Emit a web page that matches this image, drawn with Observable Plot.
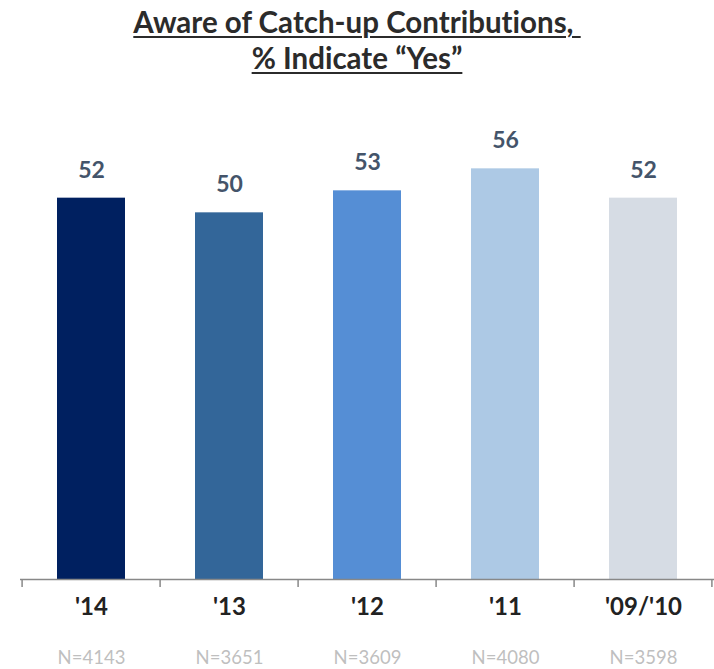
<!DOCTYPE html>
<html>
<head>
<meta charset="utf-8">
<script src="https://cdn.jsdelivr.net/npm/d3@7"></script>
<script src="https://cdn.jsdelivr.net/npm/@observablehq/plot@0.6"></script>
<style>
  html, body { margin: 0; padding: 0; background: #fff; overflow: hidden; }
  #wrap { position: relative; width: 714px; height: 669px; }
  #title { position: absolute; left: 0; top: 4px; width: 714px; text-align: center;
    font-family: Lato, "Open Sans", sans-serif; font-weight: bold; font-size: 29.5px; line-height: 36px;
    color: #2b2b2b; text-decoration: underline; text-underline-offset: 3px; text-decoration-thickness: 2px;
    font-variant-ligatures: none; }
  svg text { font-variant-ligatures: none; }
</style>
</head>
<body>
<div id="wrap">
  <div id="chart"></div>
  <div id="title">Aware of Catch-up Contributions,&nbsp;<br>% Indicate “Yes”</div>
</div>
<script>
const categories = ["'14", "'13", "'12", "'11", "'09/'10"];
const values = [52, 50, 53, 56, 52];
const sampleSizes = ["N=4143", "N=3651", "N=3609", "N=4080", "N=3598"];
const colors = ["#002060", "#336699", "#558ed5", "#adc9e5", "#d6dce4"];

const data = categories.map((c, i) => ({cat: c, value: values[i], n: sampleSizes[i], color: colors[i]}));

const W = 714, H = 669;
const bw = (W - 20) / categories.length;

const chart = Plot.plot({
  width: W,
  height: H,
  marginLeft: 20,
  marginRight: 0,
  marginTop: 139,
  marginBottom: 90,
  style: {fontFamily: "Lato, 'Open Sans', sans-serif", background: "#fff"},
  x: {domain: categories, paddingInner: 0.51, paddingOuter: 0.255, label: null},
  y: {domain: [0, 60], axis: null},
  marks: [
    Plot.barY(data, {x: "cat", y: "value", fill: "color"}),
    Plot.ruleY([0], {stroke: "#888", strokeWidth: 1.5}),
    Plot.ruleX(data, {x: "cat", y1: 0, y2: -1.1, dx: -bw / 2, stroke: "#888", strokeWidth: 1.5}),
    Plot.ruleX([categories[categories.length - 1]], {x: d => d, y1: 0, y2: -1.1, dx: bw / 2 - 1, stroke: "#888", strokeWidth: 1.5}),
    Plot.text(data, {x: "cat", y: "value", text: d => String(d.value), dy: -28, fill: "#44546a", fontSize: 23, fontWeight: "bold"}),
    Plot.text(data, {x: "cat", y: 0, text: "cat", dy: 28, fill: "#222", fontSize: 24, fontWeight: "bold"}),
    Plot.text(data, {x: "cat", y: 0, text: "n", dy: 79, fill: "#bfbfbf", fontSize: 18.5})
  ],
  axis: null
});
document.getElementById("chart").appendChild(chart);
</script>
</body>
</html>
